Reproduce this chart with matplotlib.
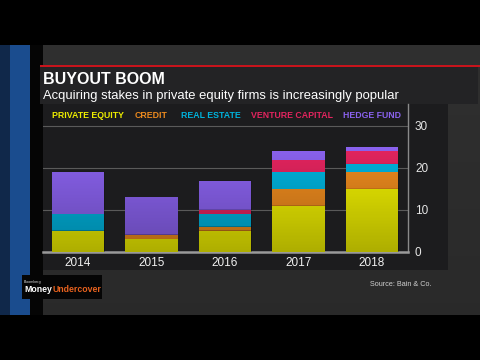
import numpy as np
import matplotlib
matplotlib.use("Agg")
import matplotlib.pyplot as plt
from matplotlib.patches import Rectangle

# ---- data ----
years = ["2014", "2015", "2016", "2017", "2018"]
private_equity = [5, 3, 5, 11, 15]
credit = [0, 1, 1, 4, 4]
real_estate = [4, 0, 3, 4, 2]
venture_capital = [0, 0, 1, 3, 3]
hedge_fund = [10, 9, 7, 2, 1]
series_names = ["PRIVATE EQUITY", "CREDIT", "REAL ESTATE", "VENTURE CAPITAL", "HEDGE FUND"]
series_colors = ["#eeee00", "#ec8a1e", "#00b2dc", "#e2245e", "#8a62ee"]
y_ticks = [0, 10, 20, 30]

W, H = 480, 360
fig = plt.figure(figsize=(4.8, 3.6), dpi=100)
fig.patch.set_facecolor("#2c2c2c")

def fx(x):
    return x / W

def fy(y):
    return 1 - y / H

def frect(x0, y0, x1, y1, color, z=0, **kw):
    fig.add_artist(Rectangle((fx(x0), fy(y1)), fx(x1) - fx(x0), fy(y0) - fy(y1),
                             transform=fig.transFigure, facecolor=color,
                             edgecolor="none", zorder=z, **kw))

# background gradient
bg = fig.add_axes([0, 0, 1, 1], zorder=-10)
g = np.linspace(0, 1, 256)[:, None]
bgimg = np.ones((256, 2, 3))
base = 0.19 - 0.03 * g
bgimg *= base[:, :, None]
bg.imshow(bgimg, aspect="auto", extent=[0, 1, 0, 1])
bg.set_axis_off()

# black bands
frect(0, 0, 480, 45, "#000000", z=1)
frect(0, 315, 480, 360, "#000000", z=1)
# left video strip
frect(0, 45, 30, 315, "#1a4c8e", z=1)
frect(0, 45, 10, 315, "#10284a", z=1)
frect(30, 45, 43, 315, "#050505", z=1)

# red line + title panel
frect(40, 64.5, 480, 67, "#c8141c", z=2)
frect(40, 67, 478, 104, "#232325", z=1)
# chart panel
frect(43, 104, 448, 270, "#1c1c1e", z=1)

fig.text(fx(43), fy(84), "BUYOUT BOOM", color="white", fontsize=11.5,
         fontweight="bold", family="Liberation Sans", ha="left",
         va="baseline", zorder=5)
fig.text(fx(43), fy(98.5), "Acquiring stakes in private equity firms is increasingly popular",
         color="white", fontsize=9.4, family="Liberation Sans", ha="left",
         va="baseline", zorder=5)

# ---- chart axes ----
ax = fig.add_axes([fx(43), fy(252), fx(408) - fx(43), fy(104) - fy(252)], zorder=3)
ax.set_facecolor("none")
x = np.arange(len(years))
series = [private_equity, credit, real_estate, venture_capital, hedge_fund]
bottom = np.zeros(len(years))
containers = []
for vals, col in zip(series, series_colors):
    c = ax.bar(x, vals, width=0.71, bottom=bottom, color=col, edgecolor="none", zorder=3)
    containers.append(c)
    bottom = bottom + np.array(vals)

# shading gradient over bars (darker toward bottom)
for c in containers:
    for p in c.patches:
        h = p.get_height()
        if h <= 0:
            continue
        y0 = p.get_y()
        ys = np.linspace(y0 + h, y0, 32)
        alpha = np.clip(0.27 * (1 - ys / 25.0), 0, 0.3)
        img = np.zeros((32, 1, 4))
        img[:, 0, 3] = alpha
        ax.imshow(img, extent=[p.get_x(), p.get_x() + p.get_width(), y0, y0 + h],
                  aspect="auto", zorder=4, interpolation="bilinear")

ax.set_xlim(-0.476, 4.49)
ax.set_ylim(0, 35.2)

for t in y_ticks[1:]:
    ax.axhline(t, color="#5a5a5a", lw=0.8, zorder=1)

ax.yaxis.tick_right()
ax.set_yticks(y_ticks)
ax.set_yticklabels([str(t) for t in y_ticks])
ax.set_xticks(x)
ax.set_xticklabels(years)
ax.tick_params(axis="y", length=0, pad=5, labelcolor="#e6e6e6", labelsize=8.5)
ax.tick_params(axis="x", length=0, pad=3.5, labelcolor="#f0f0f0", labelsize=8.5)
for lab in ax.get_xticklabels() + ax.get_yticklabels():
    lab.set_family("Liberation Sans")
for s in ["top", "left"]:
    ax.spines[s].set_visible(False)
ax.spines["right"].set_color("#8a8a8a")
ax.spines["right"].set_linewidth(1.0)
ax.spines["bottom"].set_color("#9a9a9a")
ax.spines["bottom"].set_linewidth(1.8)

# legend labels
legend_x = [52, 135, 181, 251, 343]
for name, col, lx in zip(series_names, series_colors, legend_x):
    fig.text(fx(lx), fy(115), name, color=col, fontsize=6.35, fontweight="bold",
             family="Liberation Sans", ha="left", va="center", zorder=5)

# logo
frect(22, 275, 102, 299, "#050505", z=2)
fig.text(fx(24), fy(282), "Bloomberg", color="#dddddd", fontsize=2.6,
         family="Liberation Sans", ha="left", va="center", zorder=5)
fig.text(fx(24), fy(290), "Money", color="white", fontsize=6.3, fontweight="bold",
         family="Liberation Sans", ha="left", va="center", zorder=5)
fig.text(fx(52.5), fy(290), "Undercover", color="#e8621e", fontsize=6.3, fontweight="bold",
         family="Liberation Sans", ha="left", va="center", zorder=5)

fig.text(fx(431), fy(284.5), "Source: Bain & Co.", color="#d0d0d0", fontsize=5.2,
         family="Liberation Sans", ha="right", va="center", zorder=5)

fig.savefig("out.png", dpi=100, facecolor=fig.get_facecolor())
